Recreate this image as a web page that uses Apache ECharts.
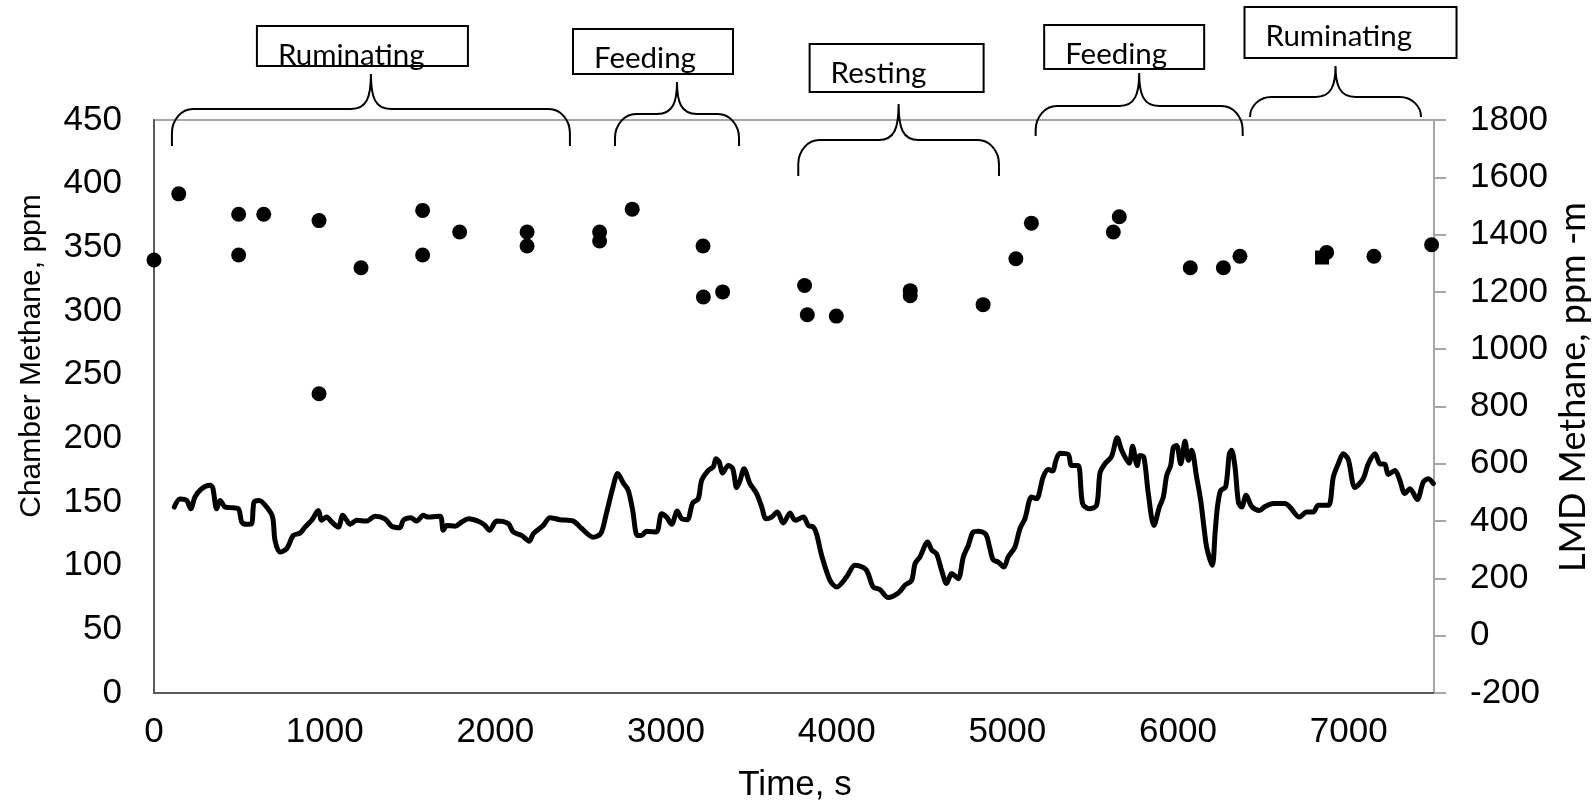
<!DOCTYPE html>
<html>
<head>
<meta charset="utf-8">
<script src="https://cdn.jsdelivr.net/npm/echarts@6/dist/echarts.min.js"></script>
<style>
  html, body { margin: 0; padding: 0; background: #fff; }
  #chart { width: 1593px; height: 808px; }
</style>
</head>
<body>
<div id="chart"></div>
<script>
// chamber samples (left axis, ppm)
const chamberTime = [0, 145, 496, 496, 643, 967, 967, 1213, 1574, 1574, 1791, 2186, 2186, 2611, 2611, 2802,
  3217, 3219, 3332, 3812, 3828, 3998, 4431, 4431, 4858, 5050, 5141, 5621, 5656, 6072, 6266, 6363, 6871, 7148, 7486]
const chamberPpm = [340, 392, 376, 344, 376, 371, 235, 334, 379, 344, 362, 362, 351, 362, 355, 380,
  351, 311, 315, 320, 297, 296, 316, 312, 305, 341, 369, 362, 374, 334, 334, 343, 346, 343, 352]
const squareTime = [6844]
const squarePpm = [342]

// LMD trace (right axis, ppm-m)
const lmdTime = [119, 152, 191, 215, 240, 279, 328, 344, 367, 387, 416, 445, 494, 514, 543, 572, 586, 617, 660, 695,
  709, 738, 778, 816, 855, 885, 924, 963, 982, 1012, 1041, 1080, 1106, 1129, 1149, 1188, 1246, 1295, 1353, 1393,
  1441, 1461, 1504, 1539, 1578, 1607, 1676, 1695, 1715, 1764, 1803, 1842, 1910, 1939, 1965, 2008, 2076, 2105, 2154, 2199,
  2223, 2281, 2320, 2379, 2457, 2506, 2574, 2619, 2648, 2687, 2717, 2750, 2779, 2805, 2832, 2857, 2886, 2944, 2974, 3003,
  3033, 3066, 3092, 3125, 3156, 3189, 3209, 3248, 3277, 3293, 3312, 3332, 3365, 3391, 3414, 3434, 3457, 3492, 3531, 3561,
  3586, 3619, 3652, 3687, 3727, 3756, 3805, 3834, 3863, 3882, 3912, 3961, 4000, 4058, 4107, 4172, 4214, 4253, 4302, 4361,
  4400, 4439, 4459, 4488, 4533, 4556, 4585, 4615, 4644, 4674, 4712, 4742, 4771, 4800, 4830, 4874, 4898, 4917, 4947, 4980,
  5005, 5044, 5074, 5103, 5142, 5171, 5210, 5240, 5265, 5285, 5308, 5357, 5376, 5415, 5441, 5480, 5523, 5543, 5572, 5611,
  5644, 5670, 5714, 5734, 5761, 5777, 5800, 5826, 5859, 5891, 5914, 5934, 5957, 5973, 5992, 6016, 6041, 6061, 6080, 6109,
  6133, 6152, 6168, 6201, 6217, 6231, 6250, 6279, 6301, 6314, 6334, 6354, 6373, 6399, 6432, 6477, 6510, 6559, 6627, 6656,
  6711, 6754, 6793, 6822, 6881, 6910, 6939, 6968, 6998, 7037, 7085, 7115, 7154, 7183, 7212, 7232, 7271, 7300, 7329, 7359,
  7402, 7437, 7466, 7496]
const lmdPpmM = [449, 477, 472, 443, 484, 513, 525, 517, 443, 472, 449, 447, 443, 397, 389, 391, 466, 472, 449, 414,
  333, 292, 304, 350, 358, 379, 403, 437, 403, 414, 397, 379, 420, 403, 389, 403, 400, 417, 408, 382,
  377, 403, 412, 400, 420, 414, 417, 368, 385, 382, 397, 408, 397, 385, 368, 400, 391, 362, 350, 330,
  356, 385, 412, 405, 400, 374, 344, 358, 420, 513, 566, 533, 507, 437, 350, 350, 365, 362, 426, 414,
  389, 435, 408, 405, 463, 478, 542, 577, 589, 618, 606, 568, 594, 583, 517, 542, 583, 531, 496, 449,
  408, 414, 432, 393, 428, 403, 414, 385, 379, 356, 280, 193, 170, 205, 246, 231, 170, 161, 133, 149,
  176, 193, 251, 275, 327, 300, 286, 228, 182, 217, 199, 275, 315, 362, 365, 354, 304, 265, 257, 240,
  275, 309, 374, 408, 484, 478, 554, 580, 575, 612, 637, 633, 594, 594, 461, 443, 455, 568, 600, 626,
  691, 647, 602, 661, 594, 629, 623, 496, 385, 449, 484, 560, 594, 658, 664, 600, 679, 612, 647, 554,
  472, 379, 309, 246, 356, 449, 507, 519, 635, 647, 589, 466, 449, 490, 451, 437, 451, 461, 461, 449,
  414, 432, 432, 455, 455, 554, 600, 635, 614, 517, 548, 600, 635, 600, 598, 563, 577, 542, 496, 513,
  475, 536, 548, 531]

// behaviour periods (time span of each brace)
const activityLabels = ['Ruminating', 'Feeding', 'Resting', 'Feeding', 'Ruminating']
const activityStart = [105, 2701, 3775, 5166, 6422]
const activityEnd = [2437, 3428, 4951, 6379, 7424]

// pixel layout of braces / label boxes
const calloutLayout = [
  { tipY: 74, barY: 109, endY: 146, boxDx: -114, boxY: 26, boxW: 211, boxH: 40 },
  { tipY: 82, barY: 114, endY: 146, boxDx: -104, boxY: 29, boxW: 160, boxH: 45 },
  { tipY: 104, barY: 140, endY: 176, boxDx: -89, boxY: 44, boxW: 174, boxH: 48 },
  { tipY: 73, barY: 106, endY: 136, boxDx: -95, boxY: 25, boxW: 160, boxH: 44 },
  { tipY: 66, barY: 97, endY: 117, boxDx: -91, boxY: 7, boxW: 212, boxH: 51 },
]

const numFont = 'Liberation Sans, Arial, sans-serif'
const labelFont = 'Lato, Carlito, sans-serif'

function bracePath(x0, x1, lay) {
  const xm = (x0 + x1) / 2
  const rh = 21
  const rv = Math.min(24, lay.endY - lay.barY)
  const b = lay.barY
  return [
    `M${x0},${lay.endY}`,
    `L${x0},${b + rv}`,
    `C${x0},${b + rv * 0.45} ${x0 + rh * 0.45},${b} ${x0 + rh},${b}`,
    `L${xm - 20},${b}`,
    `C${xm - 4},${b} ${xm},${b - 12} ${xm},${lay.tipY}`,
    `C${xm},${b - 12} ${xm + 4},${b} ${xm + 20},${b}`,
    `L${x1 - rh},${b}`,
    `C${x1 - rh * 0.45},${b} ${x1},${b + rv * 0.45} ${x1},${b + rv}`,
    `L${x1},${lay.endY}`,
  ].join(' ')
}

function renderCallout(params, api) {
  const i = params.dataIndex
  const lay = calloutLayout[i]
  const x0 = api.coord([api.value(0), 0])[0]
  const x1 = api.coord([api.value(1), 0])[0]
  const xm = (x0 + x1) / 2
  const boxX = xm + lay.boxDx
  return {
    type: 'group',
    children: [
      {
        type: 'path',
        shape: { pathData: bracePath(x0, x1, lay) },
        style: { stroke: '#000', fill: 'none', lineWidth: 2 },
      },
      {
        type: 'rect',
        shape: { x: boxX, y: lay.boxY, width: lay.boxW, height: lay.boxH },
        style: { stroke: '#000', fill: 'none', lineWidth: 2 },
      },
      {
        type: 'text',
        x: boxX + 21,
        y: lay.boxY + 29.5,
        style: {
          text: activityLabels[i],
          fontSize: 29.5,
          fontFamily: labelFont,
          fill: '#000',
          align: 'left',
          verticalAlign: 'middle',
        },
      },
    ],
  }
}

const chart = echarts.init(document.getElementById('chart'))
chart.setOption({
  animation: false,
  backgroundColor: '#fff',
  grid: {
    left: 154, right: 159, top: 120, bottom: 115,
    show: true, borderColor: '#a6a6a6', borderWidth: 2, backgroundColor: 'transparent',
  },
  xAxis: {
    type: 'value',
    min: 0,
    max: 7500,
    interval: 1000,
    axisLine: { show: true, onZero: false, lineStyle: { color: '#595959', width: 2 } },
    axisTick: { show: false },
    splitLine: { show: false },
    axisLabel: {
      color: '#000', fontSize: 35, fontFamily: numFont, margin: 22,
      formatter: (v) => (v % 1000 === 0 ? String(v) : ''),
    },
  },
  yAxis: [
    {
      type: 'value',
      min: 0,
      max: 450,
      interval: 50,
      axisLine: { show: true, onZero: false, lineStyle: { color: '#595959', width: 2 } },
      axisTick: { show: false },
      splitLine: { show: false },
      axisLabel: { color: '#000', fontSize: 35, fontFamily: numFont, margin: 32, formatter: (v) => String(v) },
    },
    {
      type: 'value',
      position: 'right',
      min: -200,
      max: 1800,
      interval: 200,
      axisLine: { show: true, onZero: false, lineStyle: { color: '#a6a6a6', width: 2 } },
      axisTick: { show: true, length: 12, lineStyle: { color: '#a6a6a6', width: 2 } },
      splitLine: { show: false },
      axisLabel: { color: '#000', fontSize: 35, fontFamily: numFont, margin: 36, formatter: (v) => String(v) },
    },
  ],
  graphic: [
    {
      type: 'text',
      x: 32, y: 356, rotation: Math.PI / 2,
      style: {
        text: 'Chamber Methane, ppm', fontSize: 30, fontFamily: numFont,
        fill: '#000', align: 'center', verticalAlign: 'middle',
      },
    },
    {
      type: 'text',
      x: 1573, y: 387, rotation: Math.PI / 2,
      style: {
        text: 'LMD Methane, ppm -m', fontSize: 36, fontFamily: labelFont,
        fill: '#000', align: 'center', verticalAlign: 'middle',
      },
    },
    {
      type: 'text',
      x: 795, y: 785,
      style: {
        text: 'Time, s', fontSize: 35, fontFamily: numFont,
        fill: '#000', align: 'center', verticalAlign: 'middle',
      },
    },
  ],
  series: [
    {
      name: 'LMD',
      type: 'line',
      yAxisIndex: 1,
      showSymbol: false,
      smooth: 0.3,
      lineStyle: { color: '#000', width: 5, cap: 'round', join: 'round' },
      data: lmdTime.map((t, i) => [t, lmdPpmM[i]]),
      z: 3,
    },
    {
      name: 'Chamber (square)',
      type: 'scatter',
      symbol: 'rect',
      symbolSize: 14,
      itemStyle: { color: '#000', opacity: 1 },
      data: squareTime.map((t, i) => [t, squarePpm[i]]),
      z: 4,
    },
    {
      name: 'Chamber',
      type: 'scatter',
      symbol: 'circle',
      symbolSize: 15,
      itemStyle: { color: '#000', opacity: 1 },
      data: chamberTime.map((t, i) => [t, chamberPpm[i]]),
      z: 5,
    },
    {
      name: 'Activity',
      type: 'custom',
      silent: true,
      clip: false,
      renderItem: renderCallout,
      encode: { x: [0, 1] },
      data: activityStart.map((s, i) => [s, activityEnd[i]]),
      z: 6,
    },
  ],
})
</script>
</body>
</html>
